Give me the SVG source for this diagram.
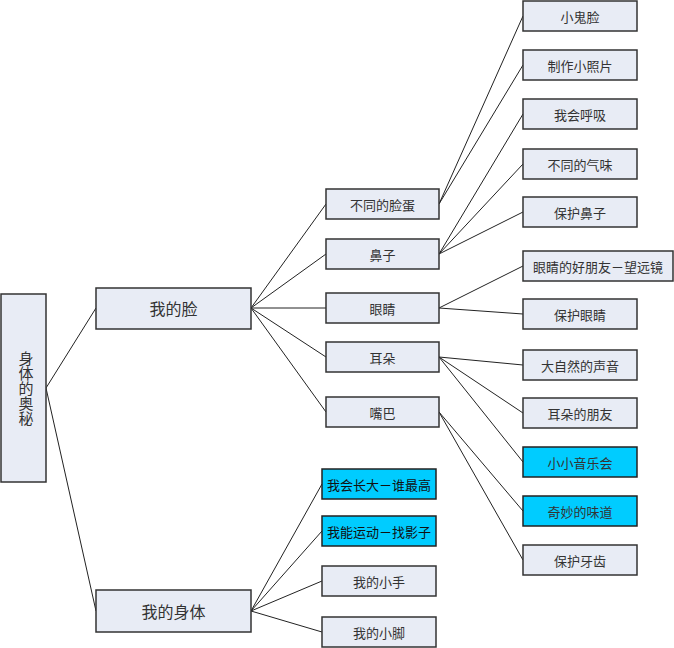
<svg xmlns="http://www.w3.org/2000/svg" width="674" height="648" viewBox="0 0 674 648">
<style>
.n{fill:#E8ECF5;stroke:#333;stroke-width:1.5}
.c{fill:#00CCFF;stroke:#222;stroke-width:1.5}
text{font-family:"Noto Sans CJK SC",sans-serif;fill:#333;text-anchor:middle;dominant-baseline:central}
.s{font-size:13px}
.b{font-size:16px}
.k{fill:#111}
.v{font-size:15px;writing-mode:vertical-rl;dominant-baseline:central}
#links line{stroke:#222;stroke-width:1}
</style>
<rect width="674" height="648" fill="#fff"/>
<g id="links">
<line x1="46" y1="388" x2="96" y2="308"/>
<line x1="46" y1="388" x2="96" y2="611"/>
<line x1="251" y1="308" x2="326" y2="204"/>
<line x1="251" y1="308" x2="326" y2="254"/>
<line x1="251" y1="308" x2="326" y2="308"/>
<line x1="251" y1="308" x2="326" y2="357"/>
<line x1="251" y1="308" x2="326" y2="412"/>
<line x1="439" y1="204" x2="523" y2="16"/>
<line x1="439" y1="204" x2="523" y2="65"/>
<line x1="439" y1="254" x2="523" y2="114"/>
<line x1="439" y1="254" x2="523" y2="164"/>
<line x1="439" y1="254" x2="523" y2="212"/>
<line x1="439" y1="308" x2="523" y2="266"/>
<line x1="439" y1="308" x2="523" y2="314"/>
<line x1="439" y1="357" x2="523" y2="365"/>
<line x1="439" y1="357" x2="523" y2="413"/>
<line x1="439" y1="357" x2="523" y2="462"/>
<line x1="439" y1="412" x2="523" y2="511"/>
<line x1="439" y1="412" x2="523" y2="560"/>
<line x1="251" y1="611" x2="322" y2="484"/>
<line x1="251" y1="611" x2="322" y2="531"/>
<line x1="251" y1="611" x2="322" y2="581"/>
<line x1="251" y1="611" x2="322" y2="632"/>
</g>
<g id="root"><rect class="n" x="1" y="294" width="45" height="188"/>
<text class="v" x="26" y="388">身体的奥秘</text></g>
<g id="face"><rect class="n" x="96" y="288" width="155" height="41"/><text class="b" x="173.5" y="308">我的脸</text></g>
<g id="body"><rect class="n" x="96" y="590" width="155" height="42"/><text class="b" x="173.5" y="611">我的身体</text></g>
<g id="f1"><rect class="n" x="326" y="189" width="113" height="30"/><text class="s" x="382.5" y="204">不同的脸蛋</text></g>
<g id="f2"><rect class="n" x="326" y="239" width="113" height="30"/><text class="s" x="382.5" y="254">鼻子</text></g>
<g id="f3"><rect class="n" x="326" y="293" width="113" height="30"/><text class="s" x="382.5" y="308">眼睛</text></g>
<g id="f4"><rect class="n" x="326" y="342" width="113" height="30"/><text class="s" x="382.5" y="357">耳朵</text></g>
<g id="f5"><rect class="n" x="326" y="397" width="113" height="30"/><text class="s" x="382.5" y="412">嘴巴</text></g>
<g id="l1"><rect class="n" x="523" y="1" width="114" height="30"/><text class="s" x="580" y="16">小鬼脸</text></g>
<g id="l2"><rect class="n" x="523" y="50" width="114" height="30"/><text class="s" x="580" y="65">制作小照片</text></g>
<g id="l3"><rect class="n" x="523" y="99" width="114" height="30"/><text class="s" x="580" y="114">我会呼吸</text></g>
<g id="l4"><rect class="n" x="523" y="149" width="114" height="30"/><text class="s" x="580" y="164">不同的气味</text></g>
<g id="l5"><rect class="n" x="523" y="197" width="114" height="30"/><text class="s" x="580" y="212">保护鼻子</text></g>
<g id="l6"><rect class="n" x="523" y="251" width="150" height="30"/><text class="s" x="598" y="266">眼睛的好朋友－望远镜</text></g>
<g id="l7"><rect class="n" x="523" y="299" width="114" height="30"/><text class="s" x="580" y="314">保护眼睛</text></g>
<g id="l8"><rect class="n" x="523" y="350" width="114" height="30"/><text class="s" x="580" y="365">大自然的声音</text></g>
<g id="l9"><rect class="n" x="523" y="398" width="114" height="30"/><text class="s" x="580" y="413">耳朵的朋友</text></g>
<g id="l10"><rect class="c" x="523" y="447" width="114" height="30"/><text class="s" x="580" y="462">小小音乐会</text></g>
<g id="l11"><rect class="c" x="523" y="496" width="114" height="30"/><text class="s" x="580" y="511">奇妙的味道</text></g>
<g id="l12"><rect class="n" x="523" y="545" width="114" height="30"/><text class="s" x="580" y="560">保护牙齿</text></g>
<g id="b1"><rect class="c" x="322" y="469" width="114" height="30"/><text class="s k" x="379" y="484">我会长大－谁最高</text></g>
<g id="b2"><rect class="c" x="322" y="516" width="114" height="30"/><text class="s k" x="379" y="531">我能运动－找影子</text></g>
<g id="b3"><rect class="n" x="322" y="566" width="114" height="30"/><text class="s" x="379" y="581">我的小手</text></g>
<g id="b4"><rect class="n" x="322" y="617" width="114" height="30"/><text class="s" x="379" y="632">我的小脚</text></g>
</svg>
